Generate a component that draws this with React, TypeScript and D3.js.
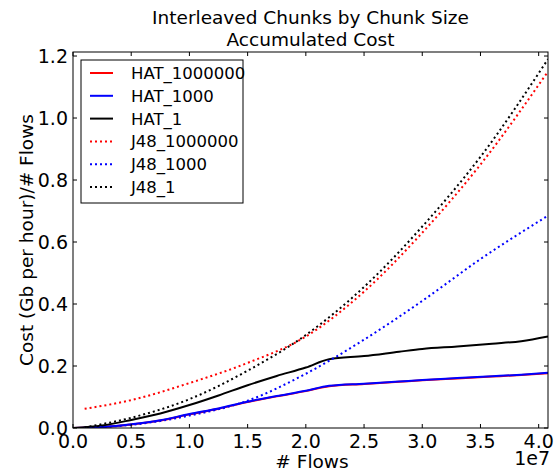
import React from "react";
import * as d3 from "d3";

// x values in units of 1e7 flows
const hatX = [0, 0.25, 0.5, 0.75, 1.0, 1.25, 1.5, 1.75, 2.0, 2.2, 2.5, 2.8, 3.0, 3.3, 3.6, 3.85, 4.08];
const hat1000000 = [0, 0.003, 0.011, 0.024, 0.044, 0.062, 0.084, 0.102, 0.119, 0.135, 0.142, 0.149, 0.154, 0.160, 0.166, 0.171, 0.177];
const hat1000 = [0, 0.003, 0.012, 0.025, 0.045, 0.063, 0.085, 0.103, 0.120, 0.136, 0.143, 0.150, 0.155, 0.161, 0.167, 0.172, 0.178];
const hat1 = [0, 0.008, 0.026, 0.047, 0.074, 0.105, 0.138, 0.168, 0.195, 0.222, 0.232, 0.246, 0.255, 0.263, 0.272, 0.280, 0.295];

const j48X = [0.1, 0.5, 1.0, 1.5, 2.0, 2.5, 3.0, 3.5, 4.08];
const j48_1000000 = [0.062, 0.09, 0.145, 0.21, 0.295, 0.44, 0.63, 0.85, 1.15];
const j48_1000 = [0.0, 0.01, 0.04, 0.088, 0.175, 0.285, 0.41, 0.545, 0.685];
const j48_1 = [0.002, 0.033, 0.093, 0.185, 0.30, 0.455, 0.65, 0.875, 1.19];

const xTicks = [0, 0.5, 1.0, 1.5, 2.0, 2.5, 3.0, 3.5, 4.0];
const yTicks = [0, 0.2, 0.4, 0.6, 0.8, 1.0, 1.2];

const W = 556, H = 472;
const m = { left: 73, right: 8, top: 52, bottom: 44 };
const font = "DejaVu Sans, sans-serif";

const series = [
  { name: "HAT_1000000", xs: hatX, ys: hat1000000, color: "#ff0000", dotted: false },
  { name: "HAT_1000", xs: hatX, ys: hat1000, color: "#0000ff", dotted: false },
  { name: "HAT_1", xs: hatX, ys: hat1, color: "#000000", dotted: false },
  { name: "J48_1000000", xs: j48X, ys: j48_1000000, color: "#ff0000", dotted: true },
  { name: "J48_1000", xs: j48X, ys: j48_1000, color: "#0000ff", dotted: true },
  { name: "J48_1", xs: j48X, ys: j48_1, color: "#000000", dotted: true },
];

export default function App() {
  const x = d3.scaleLinear().domain([0, 4.08]).range([m.left, W - m.right]);
  const y = d3.scaleLinear().domain([0, 1.213]).range([H - m.bottom, m.top]);
  const line = d3
    .line<[number, number]>()
    .x((d) => x(d[0]))
    .y((d) => y(d[1]))
    .curve(d3.curveMonotoneX);

  const x0 = m.left, x1 = W - m.right, y0 = H - m.bottom, y1 = m.top;

  return (
    <svg width={W} height={H} style={{ position: "absolute", left: 0, top: 0 }} fontFamily={font}>
      <rect width={W} height={H} fill="white" />
      <text x={(x0 + x1) / 2} y={24} textAnchor="middle" fontSize={18.5}>Interleaved Chunks by Chunk Size</text>
      <text x={(x0 + x1) / 2} y={46} textAnchor="middle" fontSize={18.5}>Accumulated Cost</text>

      <clipPath id="clip">
        <rect x={x0} y={y1} width={x1 - x0} height={y0 - y1} />
      </clipPath>
      <g clipPath="url(#clip)">
        {series.map((s) => (
          <path
            key={s.name}
            d={line(s.xs.map((v, i) => [v, s.ys[i]] as [number, number])) || ""}
            fill="none"
            stroke={s.color}
            strokeWidth={2}
            strokeDasharray={s.dotted ? "2,3" : undefined}
          />
        ))}
      </g>

      <rect x={x0} y={y1} width={x1 - x0} height={y0 - y1} fill="none" stroke="black" strokeWidth={1} />

      {xTicks.map((t) => (
        <g key={"x" + t}>
          <line x1={x(t)} x2={x(t)} y1={y0} y2={y0 - 4} stroke="black" />
          <line x1={x(t)} x2={x(t)} y1={y1} y2={y1 + 4} stroke="black" />
          <text x={x(t)} y={448} textAnchor="middle" fontSize={19}>{t.toFixed(1)}</text>
        </g>
      ))}
      {yTicks.map((t) => (
        <g key={"y" + t}>
          <line x1={x0} x2={x0 + 4} y1={y(t)} y2={y(t)} stroke="black" />
          <line x1={x1} x2={x1 - 4} y1={y(t)} y2={y(t)} stroke="black" />
          <text x={x0 - 5} y={y(t) + 7} textAnchor="end" fontSize={19}>{t.toFixed(1)}</text>
        </g>
      ))}
      <text x={x1 + 2} y={465} textAnchor="end" fontSize={19}>1e7</text>
      <text x={312} y={468} textAnchor="middle" fontSize={18.5}># Flows</text>
      <text transform={`translate(33,${(y0 + y1) / 2}) rotate(-90)`} textAnchor="middle" fontSize={18.5}>
        Cost (Gb per hour)/# Flows
      </text>

      <g>
        <rect x={81} y={60} width={162} height={143} fill="white" stroke="black" strokeWidth={1} />
        {series.map((s, i) => {
          const ry = 73 + i * 22.8;
          return (
            <g key={"l" + s.name}>
              <line x1={90} x2={113} y1={ry} y2={ry} stroke={s.color} strokeWidth={2} strokeDasharray={s.dotted ? "2,3" : undefined} />
              <text x={131} y={ry + 6} fontSize={16.5}>{s.name}</text>
            </g>
          );
        })}
      </g>
    </svg>
  );
}
